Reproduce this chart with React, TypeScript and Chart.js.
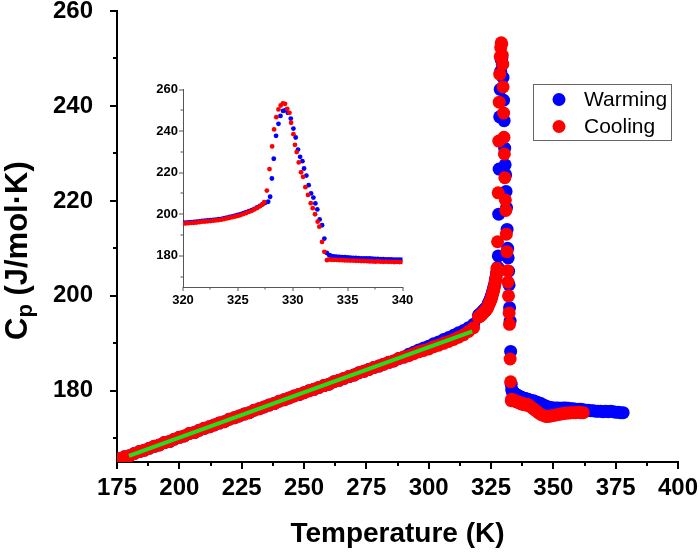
import React, { useEffect, useRef } from 'react';
import { Chart, registerables } from 'chart.js';

Chart.register(...registerables);

const FONT = '"Liberation Sans", Arial, Helvetica, sans-serif';

// ---------- tick values ----------
const xTickLabels = [175, 200, 225, 250, 275, 300, 325, 350, 375, 400];
const xMinorTicks = [187.5, 212.5, 237.5, 262.5, 287.5, 312.5, 337.5, 362.5, 387.5];
const yTickLabels = [180, 200, 220, 240, 260];
const yMinorTicks = [170, 190, 210, 230, 250];
const insetXTickLabels = [320, 325, 330, 335, 340];
const insetXMinorTicks = [322.5, 327.5, 332.5, 337.5];
const insetYTickLabels = [180, 200, 220, 240, 260];
const insetYMinorTicks = [170, 190, 210, 230, 250];

const seriesLabels = ['Warming', 'Cooling'];

// ---------- Warming (blue) ----------
const warmingT = [
  176, 178, 180, 182, 184, 186, 188, 190, 192, 194, 196, 198, 200, 202, 204, 206, 208, 210, 212, 214,
  216, 218, 220, 222, 224, 226, 228, 230, 232, 234, 236, 238, 240, 242, 244, 246, 248, 250, 252, 254,
  256, 258, 260, 262, 264, 266, 268, 270, 272, 274, 276, 278, 280, 282, 284, 286, 288, 290, 292, 294,
  296, 298, 300, 302, 304, 306, 308, 310, 312, 314, 316, 318,
  320.0, 320.25, 320.5, 320.75, 321.0, 321.25, 321.5, 321.75, 322.0, 322.25, 322.5, 322.75, 323.0, 323.25,
  323.5, 323.75, 324.0, 324.25, 324.5, 324.75, 325.0, 325.25, 325.5, 325.75, 326.0, 326.25, 326.5, 326.75,
  327.0, 327.25, 327.5,
  327.76, 327.94, 328.1, 328.27, 328.48, 328.7, 328.88, 329.12, 329.33, 329.55, 329.82, 330.06, 330.27,
  330.48, 330.67, 330.88, 331.03, 331.24, 331.45, 331.67, 331.88, 332.06, 332.24, 332.45, 332.67, 332.88,
  333.1, 333.33,
  333.5, 333.75, 334.0, 334.25, 334.5, 334.75, 335.0, 335.25, 335.5, 335.75, 336.0, 336.25, 336.5, 336.75,
  337.0, 337.25, 337.5, 337.75, 338.0, 338.25, 338.5, 338.75, 339.0, 339.25, 339.5, 339.75, 340.0,
  341, 342, 343, 344, 345, 346, 347, 348, 349, 350, 351, 352, 353, 354, 355, 356, 357, 358, 359, 360,
  361, 362, 363, 364, 365, 366, 367, 368, 369, 370, 371, 372, 373, 374, 375, 376, 377, 378,
];
const warmingCp = [
  165.7, 166.1, 166.3, 166.8, 167.2, 167.5, 167.9, 168.3, 168.6, 169.1, 169.3, 169.8, 170.2, 170.5, 171.0, 171.2, 171.7, 172.1, 172.4, 172.8,
  173.2, 173.5, 174.0, 174.3, 174.7, 175.1, 175.4, 175.9, 176.2, 176.6, 177.0, 177.3, 177.8, 178.1, 178.5, 178.9, 179.2, 179.6, 180.0, 180.3,
  180.7, 181.1, 181.4, 181.9, 182.2, 182.6, 183.0, 183.3, 183.8, 184.1, 184.5, 184.9, 185.2, 185.6, 186.0, 186.3, 186.8, 187.1, 187.7, 188.1,
  188.6, 189.0, 189.4, 189.9, 190.3, 190.8, 191.2, 191.7, 192.2, 192.7, 193.3, 194.0,
  195.9, 196.0, 196.1, 196.2, 196.3, 196.4, 196.6, 196.8, 196.9, 197.0, 197.1, 197.3, 197.4, 197.6,
  197.8, 198.1, 198.4, 198.7, 199.0, 199.3, 199.7, 200.1, 200.5, 201.0, 201.5, 202.0, 202.6, 203.3,
  204.0, 204.8, 205.5,
  206.0, 208.4, 217.2, 226.7, 237.7, 243.5, 247.3, 249.7, 250.1, 248.8, 246.0, 241.2, 236.9,
  231.1, 227.6, 225.5, 222.0, 218.6, 214.0, 210.0, 208.0, 205.2, 202.3, 197.5, 194.7, 188.3,
  181.4, 180.3,
  179.9, 179.7, 179.6, 179.5, 179.4, 179.3, 179.2, 179.1, 179.0, 179.0, 178.9, 178.8, 178.8, 178.7,
  178.7, 178.6, 178.5, 178.5, 178.4, 178.4, 178.3, 178.3, 178.3, 178.2, 178.2, 178.2, 178.1,
  178.0, 177.9, 177.7, 177.5, 177.3, 177.0, 176.8, 176.6, 176.5, 176.4, 176.4, 176.4, 176.3, 176.4, 176.4, 176.3, 176.2, 176.2, 176.1, 176.1,
  176.1, 176.0, 175.9, 175.9, 175.8, 175.8, 175.7, 175.7, 175.7, 175.6, 175.7, 175.6, 175.7, 175.6, 175.5, 175.5, 175.4, 175.4,
];

// ---------- Cooling (red) ----------
const coolingT = [
  176, 178, 180, 182, 184, 186, 188, 190, 192, 194, 196, 198, 200, 202, 204, 206, 208, 210, 212, 214,
  216, 218, 220, 222, 224, 226, 228, 230, 232, 234, 236, 238, 240, 242, 244, 246, 248, 250, 252, 254,
  256, 258, 260, 262, 264, 266, 268, 270, 272, 274, 276, 278, 280, 282, 284, 286, 288, 290, 292, 294,
  296, 298, 300, 302, 304, 306, 308, 310, 312, 314, 316, 318,
  320.0, 320.25, 320.5, 320.75, 321.0, 321.25, 321.5, 321.75, 322.0, 322.25, 322.5, 322.75, 323.0, 323.25,
  323.5, 323.75, 324.0, 324.25, 324.5, 324.75, 325.0, 325.25, 325.5, 325.75, 326.0, 326.25, 326.5, 326.75,
  327.0, 327.25, 327.4,
  327.64, 327.88, 328.12, 328.3, 328.5, 328.7, 328.9, 329.1, 329.3, 329.5, 329.7, 329.85, 330.06, 330.2,
  330.36, 330.55, 330.76, 330.94, 331.15, 331.39, 331.64, 331.82, 332.03, 332.27, 332.42, 332.67, 332.88,
  333.12,
  333.25, 333.5, 333.75, 334.0, 334.25, 334.5, 334.75, 335.0, 335.25, 335.5, 335.75, 336.0, 336.25, 336.5,
  336.75, 337.0, 337.25, 337.5, 337.75, 338.0, 338.25, 338.5, 338.75, 339.0, 339.25, 339.5, 339.75, 340.0,
  341, 342, 343, 344, 345, 346, 347, 348, 349, 350, 351, 352, 353, 354, 355, 356, 357, 358, 359, 360,
  361, 362,
];
const coolingCp = [
  165.7, 166.1, 166.3, 166.8, 167.2, 167.5, 167.9, 168.3, 168.6, 169.1, 169.3, 169.8, 170.2, 170.5, 171.0, 171.2, 171.7, 172.1, 172.4, 172.8,
  173.2, 173.5, 174.0, 174.3, 174.7, 175.1, 175.4, 175.9, 176.2, 176.6, 177.0, 177.3, 177.8, 178.1, 178.5, 178.9, 179.2, 179.6, 180.0, 180.3,
  180.7, 181.1, 181.4, 181.9, 182.2, 182.6, 183.0, 183.3, 183.8, 184.1, 184.5, 184.9, 185.2, 185.6, 186.0, 186.3, 186.8, 187.1, 187.4, 187.8,
  188.2, 188.5, 188.8, 189.3, 189.6, 190.0, 190.4, 190.8, 191.3, 191.8, 192.5, 193.3,
  195.5, 195.6, 195.7, 195.8, 195.9, 196.0, 196.2, 196.4, 196.5, 196.6, 196.7, 196.9, 197.0, 197.2,
  197.4, 197.7, 198.0, 198.3, 198.6, 198.9, 199.2, 199.6, 200.1, 200.6, 201.1, 201.6, 202.3, 203.0,
  203.8, 204.7, 205.8,
  211.4, 221.7, 232.6, 240.8, 246.7, 250.4, 252.3, 253.3, 253.1, 250.7, 248.8, 244.0, 238.5, 233.4,
  229.9, 224.9, 220.2, 218.0, 213.0, 209.3, 205.3, 202.9, 200.0, 196.4, 194.0, 186.7, 181.9,
  177.9,
  178.2, 178.1, 178.0, 178.0, 177.9, 177.9, 177.8, 177.8, 177.7, 177.7, 177.6, 177.6, 177.5, 177.5,
  177.4, 177.3, 177.3, 177.2, 177.3, 177.2, 177.1, 177.2, 177.1, 177.1, 177.0, 177.1, 177.0, 177.0,
  176.6, 176.2, 175.8, 175.4, 175.0, 174.8, 174.6, 174.6, 174.7, 174.8, 174.9, 175.0, 175.1, 175.2, 175.3, 175.3, 175.4, 175.4, 175.4, 175.5,
  175.4, 175.4,
];

// ---------- linear fit (green) ----------
const fitT = [179.8, 317.5];
const fitCp = [166.3, 192.5];

const toPoints = (ts: number[], ys: number[]) => ts.map((t, i) => ({ x: t, y: ys[i] }));

function makeTickPlugin(id: string, xMaj: number[], xMin: number[], yMaj: number[], yMin: number[],
  majLen: number, minLen: number, width: number, color: string) {
  return {
    id,
    afterDraw(chart: any) {
      const { ctx, chartArea, scales } = chart;
      const xs = scales.x;
      const ys = scales.y;
      ctx.save();
      ctx.strokeStyle = color;
      ctx.lineWidth = width;
      const vx = (vals: number[], len: number) => vals.forEach((v) => {
        const px = Math.round(xs.getPixelForValue(v));
        ctx.beginPath();
        ctx.moveTo(px, chartArea.bottom);
        ctx.lineTo(px, chartArea.bottom + len);
        ctx.stroke();
      });
      const vy = (vals: number[], len: number) => vals.forEach((v) => {
        const py = Math.round(ys.getPixelForValue(v));
        ctx.beginPath();
        ctx.moveTo(chartArea.left, py);
        ctx.lineTo(chartArea.left - len, py);
        ctx.stroke();
      });
      vx(xMaj, majLen); vx(xMin, minLen); vy(yMaj, majLen); vy(yMin, minLen);
      ctx.restore();
    },
  };
}

const legendPlugin = {
  id: 'boxLegend',
  afterDraw(chart: any) {
    const ctx = chart.ctx;
    const items = seriesLabels.map((l) => chart.data.datasets.find((d: any) => d.label === l));
    const bx = 533, by = 84, bw = 138, bh = 56;
    ctx.save();
    ctx.strokeStyle = '#666';
    ctx.lineWidth = 1;
    ctx.strokeRect(bx + 0.5, by + 0.5, bw, bh);
    ctx.font = `21px ${FONT}`;
    ctx.textBaseline = 'middle';
    ctx.textAlign = 'left';
    items.forEach((d: any, i: number) => {
      const cy = by + 15.5 + i * 27;
      ctx.fillStyle = d.pointBackgroundColor;
      ctx.beginPath();
      ctx.arc(bx + 26, cy, 6.5, 0, Math.PI * 2);
      ctx.fill();
      ctx.fillStyle = '#000';
      ctx.fillText(d.label, bx + 51, cy + 1);
    });
    ctx.restore();
  },
};

const yTitlePlugin = {
  id: 'yTitle',
  afterDraw(chart: any) {
    const ctx = chart.ctx;
    ctx.save();
    ctx.translate(27, 340);
    ctx.rotate(-Math.PI / 2);
    ctx.fillStyle = '#000';
    ctx.textBaseline = 'alphabetic';
    ctx.textAlign = 'left';
    ctx.font = `bold 31px ${FONT}`;
    ctx.fillText('C', 0, 0);
    let w = ctx.measureText('C').width;
    ctx.font = `bold 22px ${FONT}`;
    ctx.fillText('p', w, 5);
    w += ctx.measureText('p').width;
    ctx.font = `bold 31px ${FONT}`;
    ctx.fillText(' (J/mol\u00B7K)', w, 0);
    ctx.restore();
  },
};

function scatterSet(label: string, ts: number[], ys: number[], color: string, r: number, order: number) {
  return {
    type: 'scatter',
    label,
    data: toPoints(ts, ys),
    showLine: false,
    pointBackgroundColor: color,
    pointBorderColor: color,
    backgroundColor: color,
    borderColor: color,
    pointBorderWidth: 0,
    pointRadius: r,
    pointHoverRadius: r,
    order,
  };
}

export default function App() {
  const mainRef = useRef<HTMLCanvasElement>(null);
  const insetRef = useRef<HTMLCanvasElement>(null);

  useEffect(() => {
    const tickFont = (size: number) => ({ family: FONT, size, weight: 'bold' as const });

    const main = new Chart(mainRef.current as HTMLCanvasElement, {
      type: 'scatter',
      data: {
        datasets: [
          {
            type: 'line',
            label: 'fit',
            data: toPoints(fitT, fitCp),
            borderColor: '#1fe01f',
            borderWidth: 4,
            pointRadius: 0,
            fill: false,
            order: 0,
          } as any,
          scatterSet('Cooling', coolingT, coolingCp, '#ff0000', 6.5, 1) as any,
          scatterSet('Warming', warmingT, warmingCp, '#0000ff', 6.5, 2) as any,
        ],
      },
      options: {
        responsive: false,
        animation: false,
        devicePixelRatio: 1,
        layout: { padding: { left: 0, top: 11, right: 22, bottom: 0 } },
        plugins: { legend: { display: false }, tooltip: { enabled: false } },
        scales: {
          x: {
            type: 'linear',
            min: 175,
            max: 400,
            afterBuildTicks: (s: any) => { s.ticks = xTickLabels.map((value) => ({ value })); },
            afterFit: (s: any) => { s.height = 92; s.paddingLeft = 0; s.paddingRight = 0; },
            ticks: { font: tickFont(24), color: '#000', padding: 12, maxRotation: 0, autoSkip: false },
            grid: { display: false, drawTicks: false },
            border: { display: true, color: '#000', width: 2 },
            title: {
              display: true,
              text: 'Temperature (K)',
              color: '#000',
              font: { family: FONT, size: 28, weight: 'bold' },
              padding: { top: 0, bottom: 3 },
            },
          },
          y: {
            type: 'linear',
            min: 165,
            max: 260,
            afterBuildTicks: (s: any) => { s.ticks = yTickLabels.map((value) => ({ value })); },
            afterFit: (s: any) => { s.width = 117; s.paddingTop = 0; s.paddingBottom = 0; },
            ticks: { font: tickFont(24), color: '#000', padding: 24, autoSkip: false },
            grid: { display: false, drawTicks: false },
            border: { display: true, color: '#000', width: 2 },
          },
        },
      } as any,
      plugins: [
        makeTickPlugin('mainTicks', xTickLabels, xMinorTicks, yTickLabels, yMinorTicks, 7, 4, 2, '#000'),
        legendPlugin,
        yTitlePlugin,
      ],
    });

    const inset = new Chart(insetRef.current as HTMLCanvasElement, {
      type: 'scatter',
      data: {
        datasets: [
          scatterSet('Cooling', coolingT, coolingCp, '#ff0000', 2.4, 1) as any,
          scatterSet('Warming', warmingT, warmingCp, '#0000ff', 2.4, 2) as any,
        ],
      },
      options: {
        responsive: false,
        animation: false,
        devicePixelRatio: 1,
        layout: { padding: { left: 0, top: 89.5, right: 297.5, bottom: 0 } },
        plugins: { legend: { display: false }, tooltip: { enabled: false } },
        scales: {
          x: {
            type: 'linear',
            min: 320,
            max: 340,
            afterBuildTicks: (s: any) => { s.ticks = insetXTickLabels.map((value) => ({ value })); },
            afterFit: (s: any) => { s.height = 267; s.paddingLeft = 0; s.paddingRight = 0; },
            ticks: { font: tickFont(13), color: '#000', padding: 6, maxRotation: 0, autoSkip: false },
            grid: { display: false, drawTicks: false },
            border: { display: true, color: '#555', width: 1 },
          },
          y: {
            type: 'linear',
            min: 165,
            max: 260,
            afterBuildTicks: (s: any) => { s.ticks = insetYTickLabels.map((value) => ({ value })); },
            afterFit: (s: any) => { s.width = 183; s.paddingTop = 0; s.paddingBottom = 0; },
            ticks: { font: tickFont(13), color: '#000', padding: 5, autoSkip: false },
            grid: { display: false, drawTicks: false },
            border: { display: true, color: '#555', width: 1 },
          },
        },
      } as any,
      plugins: [
        makeTickPlugin('insetTicks', insetXTickLabels, insetXMinorTicks, insetYTickLabels, insetYMinorTicks, 4, 2.5, 1, '#555'),
      ],
    });

    return () => {
      main.destroy();
      inset.destroy();
    };
  }, []);

  return (
    <div style={{ position: 'fixed', left: 0, top: 0, width: 700, height: 554, background: '#fff' }}>
      <canvas ref={mainRef} width={700} height={554} style={{ position: 'absolute', left: 0, top: 0 }} />
      <canvas ref={insetRef} width={700} height={554} style={{ position: 'absolute', left: 0, top: 0 }} />
    </div>
  );
}
